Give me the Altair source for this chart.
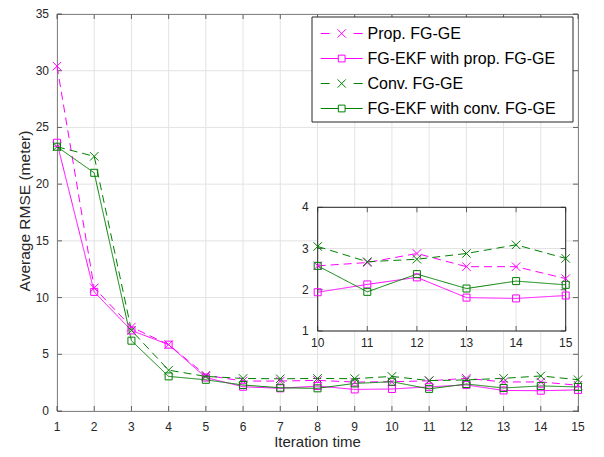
import altair as alt
import pandas as pd

# ---------------- data ----------------
iterations = list(range(1, 16))
series_names = ["Prop. FG-GE", "FG-EKF with prop. FG-GE", "Conv. FG-GE", "FG-EKF with conv. FG-GE"]
prop_fgge = [30.4, 10.85, 7.4, 5.85, 3.15, 2.64, 2.64, 2.70, 2.55, 2.58, 2.66, 2.88, 2.56, 2.56, 2.27]
ekf_prop = [23.65, 10.5, 7.1, 5.85, 2.95, 2.14, 2.00, 2.20, 1.90, 1.94, 2.13, 2.30, 1.81, 1.79, 1.86]
conv_fgge = [23.3, 22.45, 7.1, 3.6, 3.05, 2.87, 2.84, 2.87, 2.85, 3.05, 2.68, 2.74, 2.88, 3.09, 2.76]
ekf_conv = [23.3, 21.0, 6.2, 3.05, 2.75, 2.29, 2.05, 2.00, 2.43, 2.58, 1.95, 2.38, 2.03, 2.21, 2.12]
series_colors = ["#ff00ff", "#ff00ff", "#008000", "#008000"]

x_ticks = list(range(1, 16))
y_ticks = [0, 5, 10, 15, 20, 25, 30, 35]
inset_x_ticks = [10, 11, 12, 13, 14, 15]
inset_y_ticks = [1, 2, 3, 4]
x_title = ["Iteration time"]
y_title = ["Average RMSE (meter)"]

rows = []
for name, vals in zip(series_names, [prop_fgge, ekf_prop, conv_fgge, ekf_conv]):
    for it, v in zip(iterations, vals):
        rows.append({"iter": it, "rmse": v, "series": name})
df = pd.DataFrame(rows)
xt_df = pd.DataFrame({"t": x_ticks})
yt_df = pd.DataFrame({"t": y_ticks})
ixt_df = pd.DataFrame({"t": inset_x_ticks})
iyt_df = pd.DataFrame({"t": inset_y_ticks})
leg_df = pd.DataFrame({"series": series_names, "row": list(range(len(series_names)))})

# ---------------- styling ----------------
FONT = "Liberation Sans"
AX = "#262626"
GRID = "#e3e3e3"
W, H = 521, 397
X_PATH = "M-1,-1L1,1M-1,1L1,-1"
LEG_DASH_X = "M-2.8,0H-1.6M1.6,0H2.8M-0.55,-0.55L0.55,0.55M-0.55,0.55L0.55,-0.55"
LEG_SOLID_SQ = "M-2.8,0H-0.45M0.45,0H2.8M-0.45,-0.45H0.45V0.45H-0.45Z"

xs_main = alt.Scale(domain=[1, 15], nice=False, zero=False)
ys_main = alt.Scale(domain=[0, 35], nice=False, zero=False)
xs_in = alt.Scale(domain=[10, 15], range=[260.7, 508.7], nice=False, zero=False)
ys_in = alt.Scale(domain=[1, 4], range=[317, 193.3], nice=False, zero=False)
ys_leg = alt.Scale(domain=[0, 3], range=[19.5, 94.5], nice=False, zero=False)
color_scale = alt.Scale(domain=series_names, range=series_colors)
dash_scale = alt.Scale(domain=series_names, range=[[8, 5], [1, 0], [8, 5], [1, 0]])
shape_scale = alt.Scale(domain=series_names, range=[LEG_DASH_X, LEG_SOLID_SQ, LEG_DASH_X, LEG_SOLID_SQ])

C_noleg = alt.Color("series:N", scale=color_scale, legend=None)
D_noleg = alt.StrokeDash("series:N", scale=dash_scale, legend=None)
dashed = [series_names[0], series_names[2]]
solid = [series_names[1], series_names[3]]
tk = dict(thickness=1, size=5, color=AX)


def panel(xs, ys, x0, x1, y0, y1, xt, yt, xlab_dy, ylab_dx, data_filter=None):
    """Grid, ticks, tick labels and series for one set of axes (main or inset)."""
    Xd = lambda v: alt.XDatum(v, scale=xs, axis=None)
    Yd = lambda v: alt.YDatum(v, scale=ys, axis=None)
    Xt = alt.X("t:Q", scale=xs, axis=None)
    Yt = alt.Y("t:Q", scale=ys, axis=None)
    layers = []
    layers.append(alt.Chart(xt).mark_rule(color=GRID, strokeWidth=1).encode(x=Xt, y=Yd(y0), y2=alt.Y2Datum(y1)))
    layers.append(alt.Chart(yt).mark_rule(color=GRID, strokeWidth=1).encode(y=Yt, x=Xd(x0), x2=alt.X2Datum(x1)))
    layers.append(alt.Chart(xt).mark_tick(orient="vertical", yOffset=-2.5, **tk).encode(x=Xt, y=Yd(y0)))
    layers.append(alt.Chart(xt).mark_tick(orient="vertical", yOffset=2.5, **tk).encode(x=Xt, y=Yd(y1)))
    layers.append(alt.Chart(yt).mark_tick(orient="horizontal", xOffset=2.5, **tk).encode(y=Yt, x=Xd(x0)))
    layers.append(alt.Chart(yt).mark_tick(orient="horizontal", xOffset=-2.5, **tk).encode(y=Yt, x=Xd(x1)))
    layers.append(alt.Chart(xt).mark_text(font=FONT, fontSize=12, color=AX, baseline="top", dy=xlab_dy).encode(
        x=Xt, y=Yd(y0), text=alt.Text("t:Q")))
    layers.append(alt.Chart(yt).mark_text(font=FONT, fontSize=12, color=AX, align="right", baseline="middle",
                                          dx=ylab_dx).encode(y=Yt, x=Xd(x0), text=alt.Text("t:Q")))
    b = alt.Chart(df)
    if data_filter is not None:
        b = b.transform_filter(data_filter)
    X = alt.X("iter:Q", scale=xs, axis=None)
    Y = alt.Y("rmse:Q", scale=ys, axis=None)
    layers.append(b.mark_line(strokeWidth=1).encode(x=X, y=Y, color=C_noleg, strokeDash=D_noleg))
    layers.append(b.transform_filter(alt.FieldOneOfPredicate(field="series", oneOf=dashed)).mark_point(
        shape=X_PATH, size=72, filled=False, strokeWidth=1, opacity=1).encode(x=X, y=Y, color=C_noleg))
    layers.append(b.transform_filter(alt.FieldOneOfPredicate(field="series", oneOf=solid)).mark_point(
        shape="square", size=49, filled=False, strokeWidth=1, opacity=1).encode(x=X, y=Y, color=C_noleg))
    return layers


# ---------------- main axes ----------------
main_layers = panel(xs_main, ys_main, 1, 15, 0, 35, xt_df, yt_df, 11, -8)
xtitle = alt.Chart(pd.DataFrame({"label": x_title})).mark_text(
    font=FONT, fontSize=15, color=AX, baseline="middle").encode(
    x=alt.value(260.5), y=alt.value(428), text="label:N")
ytitle = alt.Chart(pd.DataFrame({"label": y_title})).mark_text(
    font=FONT, fontSize=15.5, color=AX, baseline="middle", angle=270).encode(
    x=alt.value(-32), y=alt.value(197), text="label:N")
main = alt.layer(*main_layers, xtitle, ytitle)

# ---------------- inset ----------------
box = alt.Chart(ixt_df).transform_filter(alt.datum.t == 10)
inset_bg = box.mark_rect(fill="white", strokeWidth=0).encode(
    x=alt.XDatum(10, scale=xs_in, axis=None), x2=alt.X2Datum(15),
    y=alt.YDatum(1, scale=ys_in, axis=None), y2=alt.Y2Datum(4))
inset_frame = box.mark_rect(fillOpacity=0, stroke=AX, strokeWidth=1).encode(
    x=alt.XDatum(10, scale=xs_in, axis=None), x2=alt.X2Datum(15),
    y=alt.YDatum(1, scale=ys_in, axis=None), y2=alt.Y2Datum(4))
inset_layers = panel(xs_in, ys_in, 10, 15, 1, 4, ixt_df, iyt_df, 7, -9,
                     data_filter=alt.datum.iter >= 10)
inset = alt.layer(inset_bg, *inset_layers[:2], inset_frame, *inset_layers[2:])

# ---------------- legend ----------------
lb = alt.Chart(leg_df)
leg_box = lb.transform_filter(alt.datum.row == 0).mark_rect(fill="white", stroke=AX, strokeWidth=1).encode(
    x=alt.value(255), x2=alt.value(516), y=alt.value(3), y2=alt.value(108))
leg_sym = lb.mark_point(filled=False, strokeWidth=1, size=225, opacity=1).encode(
    x=alt.value(284.7), y=alt.Y("row:Q", scale=ys_leg, axis=None),
    color=C_noleg, shape=alt.Shape("series:N", scale=shape_scale, legend=None))
leg_txt = lb.mark_text(font=FONT, fontSize=16, color="black", align="left", baseline="middle").encode(
    x=alt.value(310.5), y=alt.Y("row:Q", scale=ys_leg, axis=None), text="series:N")
legend = alt.layer(leg_box, leg_sym, leg_txt)

chart = alt.layer(main, inset, legend).resolve_scale(x="independent", y="independent").properties(
    width=W, height=H, autosize="none", background="white",
    padding={"left": 49, "top": 6, "right": 17, "bottom": 40},
).configure_view(stroke=AX, strokeWidth=1)

chart.save("out.html", embed_options={"renderer": "svg", "actions": False})
